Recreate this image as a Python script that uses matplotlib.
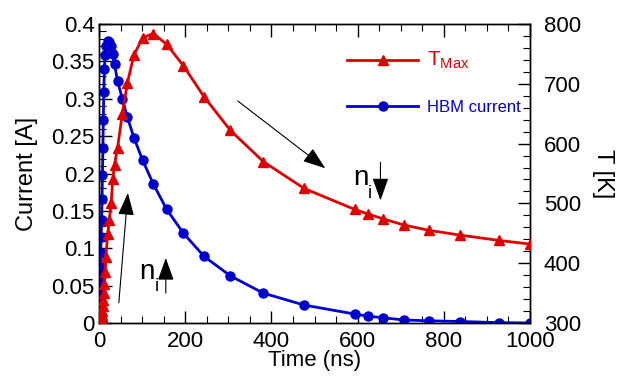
import matplotlib
matplotlib.use("Agg")
import matplotlib.pyplot as plt
from matplotlib.ticker import MultipleLocator

plt.rcParams['font.family'] = ['Liberation Sans', 'DejaVu Sans']
plt.rcParams['mathtext.fontset'] = 'custom'
plt.rcParams['mathtext.rm'] = 'Liberation Sans'
plt.rcParams['mathtext.it'] = 'Liberation Sans'

# Simulation time samples (ns)
time_ns = [0, 0.5, 1, 1.5, 2, 2.5, 3, 3.5, 4, 5, 6, 7, 8, 9, 10, 11, 12.5, 14,
           16, 20, 24, 28, 32, 36, 43, 54, 66, 81, 101, 126, 157, 196, 244,
           305, 381, 476, 593, 625, 660, 707, 765, 838, 929, 1000]

# HBM stress current (A)
hbm_current = [0.000, 0.009, 0.020, 0.032, 0.043, 0.054, 0.065, 0.078, 0.094,
               0.115, 0.138, 0.166, 0.198, 0.234, 0.272, 0.309, 0.340, 0.358,
               0.370, 0.377, 0.376, 0.370, 0.360, 0.346, 0.324, 0.300, 0.275,
               0.248, 0.218, 0.186, 0.152, 0.120, 0.089, 0.063, 0.040, 0.024,
               0.012, 0.009, 0.007, 0.004, 0.003, 0.002, 0.0005, 0.000]

# Maximum lattice temperature (K)
t_max = [300, 300, 301, 301, 302, 302, 303, 304, 305, 307, 310, 314, 320, 328,
         338, 350, 365, 385, 410, 448, 473, 500, 540, 565, 593, 649, 702, 748,
         777, 784, 766, 730, 678, 622, 570, 525, 490, 482, 474, 464, 455, 447,
         438, 432]

red = '#e00000'
blue = '#0000d0'

fig = plt.figure(figsize=(6.24, 3.84), dpi=100)
ax = fig.add_axes([99 / 624, 1 - 323 / 384, 431 / 624, 299 / 384])
ax2 = ax.twinx()

l_cur, = ax.plot(time_ns, hbm_current, color=blue, lw=2.0, marker='o', ms=6.5,
                 label='HBM current', zorder=3)
l_tmp, = ax2.plot(time_ns, t_max, color=red, lw=2.0, marker='^', ms=7,
                  label=r'T$_{\mathregular{Max}}$', zorder=3)

ax.set_xlim(0, 1000)
ax.set_ylim(0, 0.4)
ax2.set_ylim(300, 800)

ax.xaxis.set_major_locator(MultipleLocator(200))
ax.xaxis.set_minor_locator(MultipleLocator(50))
ax.yaxis.set_minor_locator(MultipleLocator(0.01))
ax2.yaxis.set_major_locator(MultipleLocator(100))
ax2.yaxis.set_minor_locator(MultipleLocator(20))

ax.set_yticks([0, 0.05, 0.1, 0.15, 0.2, 0.25, 0.3, 0.35, 0.4])
ax.set_yticklabels(['0', '0.05', '0.1', '0.15', '0.2', '0.25', '0.3', '0.35', '0.4'])

ax.tick_params(axis='x', which='both', direction='in', top=True, labelsize=16, pad=6)
ax.tick_params(axis='y', which='both', direction='in', right=False, labelsize=16, pad=3)
ax2.tick_params(axis='y', which='both', direction='in', labelsize=16, pad=10)
for a in (ax, ax2):
    a.tick_params(which='major', length=9, width=1)
    a.tick_params(which='minor', length=5, width=0.8)
    for s in a.spines.values():
        s.set_linewidth(1)

ax.set_xlabel('Time (ns)', fontsize=16, labelpad=-2)
ax.set_ylabel('Current [A]', fontsize=17, labelpad=10)
ax2.set_ylabel('T [K]', fontsize=17, rotation=270, labelpad=24)

leg = ax.legend([l_tmp, l_cur], [r'T$_{\mathregular{Max}}$', 'HBM current'],
                loc='upper left', bbox_to_anchor=(0.54, 0.965), frameon=False,
                handlelength=4.3, labelspacing=1.75, fontsize=12,
                labelcolor='linecolor', handletextpad=0.5)
leg.get_texts()[0].set_fontsize(15)

arrow_kw = dict(arrowstyle='-|>,head_length=1.4,head_width=0.5',
                color='black', lw=0.8, shrinkA=0, shrinkB=0)
ax.annotate('', xy=(67, 0.174), xytext=(46, 0.027), arrowprops=arrow_kw)
ax.annotate('', xy=(525, 0.207), xytext=(322, 0.297), arrowprops=arrow_kw)
ax.annotate('', xy=(155, 0.087), xytext=(155, 0.040), arrowprops=arrow_kw)
ax.annotate('', xy=(653, 0.164), xytext=(653, 0.215), arrowprops=arrow_kw)

# carrier density labels: "n" with a lowered subscript "i"
for xn, yn in [(93, 0.059), (589, 0.184)]:
    ax.text(xn, yn, 'n', fontsize=20, ha='left', va='baseline')
    ax.annotate('i', xy=(xn, yn), xytext=(11, -9), textcoords='offset points',
                fontsize=13, ha='left', va='baseline')

fig.savefig('out.png', dpi=100)
